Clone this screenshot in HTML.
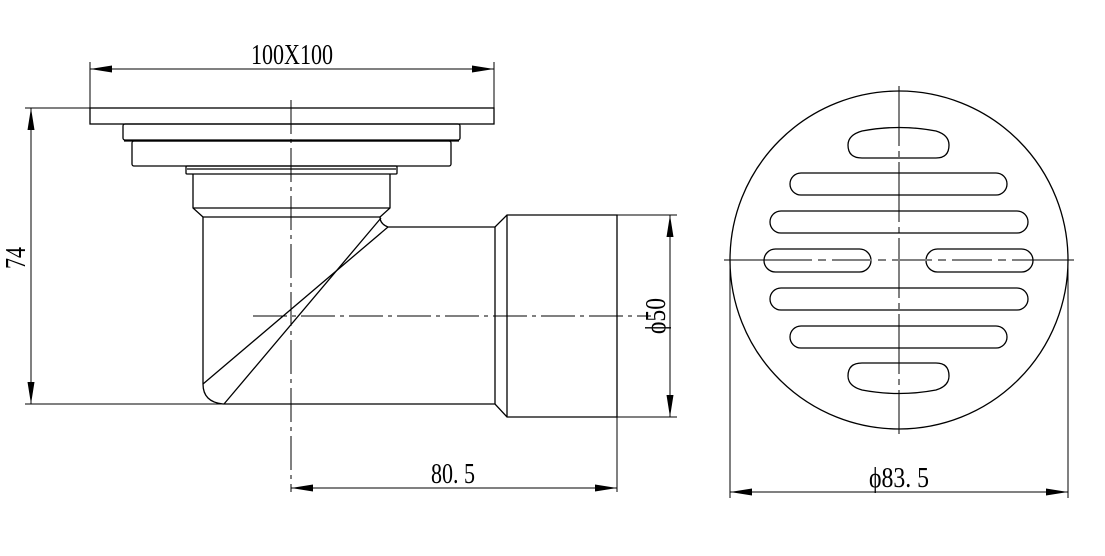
<!DOCTYPE html>
<html><head><style>html,body{margin:0;padding:0;background:#fff}svg{display:block}</style></head>
<body>
<svg width="1105" height="556" viewBox="0 0 1105 556" xmlns="http://www.w3.org/2000/svg">
<defs>
<marker id="a" viewBox="0 0 22 7" refX="22" refY="3.5" markerWidth="22" markerHeight="7" markerUnits="userSpaceOnUse" orient="auto-start-reverse"><path d="M0,0 L22,3.5 L0,7 z" fill="#000"/></marker>
</defs>
<g fill="none" stroke="#000" stroke-width="1.3">
<rect x="90" y="108" width="404" height="16"/>
<rect x="123" y="124" width="337" height="16" rx="2"/>
<line x1="124" y1="141" x2="459" y2="141"/>
<rect x="132" y="141" width="319" height="25" rx="2"/>
<rect x="186" y="166" width="211" height="8" rx="1"/>
<line x1="187" y1="169" x2="396" y2="169"/>
<path d="M193,174 V208 L203,217 M390,174 V208 L380,217"/>
<line x1="193" y1="208" x2="390" y2="208"/>
<line x1="203" y1="217" x2="380" y2="217"/>
<path d="M203,217 V384 Q203,402 223,404 H495 L507,417 H617 V215 H507 L495,227 H388 Q380,224 380,217"/>
<line x1="495" y1="227" x2="495" y2="404"/>
<line x1="507" y1="215" x2="507" y2="417"/>
<line x1="381" y1="218" x2="224" y2="404"/>
<line x1="388" y1="227" x2="203" y2="384"/>
<circle cx="899" cy="260" r="169"/>
<path d="M862,131 Q899,124 936,131 Q949,135 949,145 Q949,158 936,158 H862 Q848,158 848,145 Q848,135 862,131 Z"/>
<rect x="790" y="173" width="217" height="22" rx="11"/>
<rect x="770" y="211" width="258" height="22" rx="11"/>
<rect x="764" y="249" width="107" height="23" rx="11.5"/>
<rect x="926" y="249" width="107" height="23" rx="11.5"/>
<rect x="770" y="288" width="258" height="22" rx="11"/>
<rect x="790" y="326" width="217" height="22" rx="11"/>
<path d="M862,390 Q899,397 936,390 Q949,386 949,376 Q949,363 936,363 H862 Q848,363 848,376 Q848,386 862,390 Z"/>
</g>
<g fill="none" stroke="#000" stroke-width="1">
<line x1="291" y1="100" x2="291" y2="492" stroke-dasharray="34,5,4,5"/>
<line x1="253" y1="316" x2="651" y2="316" stroke-dasharray="34,5,4,5"/>
<line x1="899" y1="86" x2="899" y2="434" stroke-dasharray="60,5,6,5"/>
<line x1="724" y1="260" x2="1074" y2="260"/>
<line x1="772" y1="260" x2="1028" y2="260" stroke="#fff" stroke-width="2"/>
<line x1="772" y1="260" x2="1028" y2="260" stroke-dasharray="40,6,8,6"/>
<line x1="90" y1="62" x2="90" y2="108"/>
<line x1="494" y1="62" x2="494" y2="108"/>
<line x1="90" y1="69" x2="494" y2="69" marker-start="url(#a)" marker-end="url(#a)"/>
<line x1="25" y1="108" x2="90" y2="108"/>
<line x1="25" y1="404" x2="223" y2="404"/>
<line x1="31" y1="108" x2="31" y2="404" marker-start="url(#a)" marker-end="url(#a)"/>
<line x1="617" y1="417" x2="617" y2="492"/>
<line x1="291" y1="488" x2="617" y2="488" marker-start="url(#a)" marker-end="url(#a)"/>
<line x1="617" y1="215" x2="677" y2="215"/>
<line x1="617" y1="417" x2="677" y2="417"/>
<line x1="670" y1="215" x2="670" y2="417" marker-start="url(#a)" marker-end="url(#a)"/>
<line x1="730" y1="260" x2="730" y2="498"/>
<line x1="1068" y1="260" x2="1068" y2="498"/>
<line x1="730" y1="492" x2="1068" y2="492" marker-start="url(#a)" marker-end="url(#a)"/>
</g>
<g font-family="Liberation Serif, serif" font-size="29" fill="#000" text-anchor="middle">
<text x="292" y="64" textLength="82" lengthAdjust="spacingAndGlyphs">100X100</text>
<text x="453" y="483" textLength="44" lengthAdjust="spacingAndGlyphs">80. 5</text>
<text x="899" y="487" textLength="60" lengthAdjust="spacingAndGlyphs">ϕ83. 5</text>
<text transform="translate(25,258) rotate(-90)" textLength="22" lengthAdjust="spacingAndGlyphs">74</text>
<text transform="translate(665,316) rotate(-90)" textLength="36" lengthAdjust="spacingAndGlyphs">ϕ50</text>
</g>
</svg>
</body></html>
